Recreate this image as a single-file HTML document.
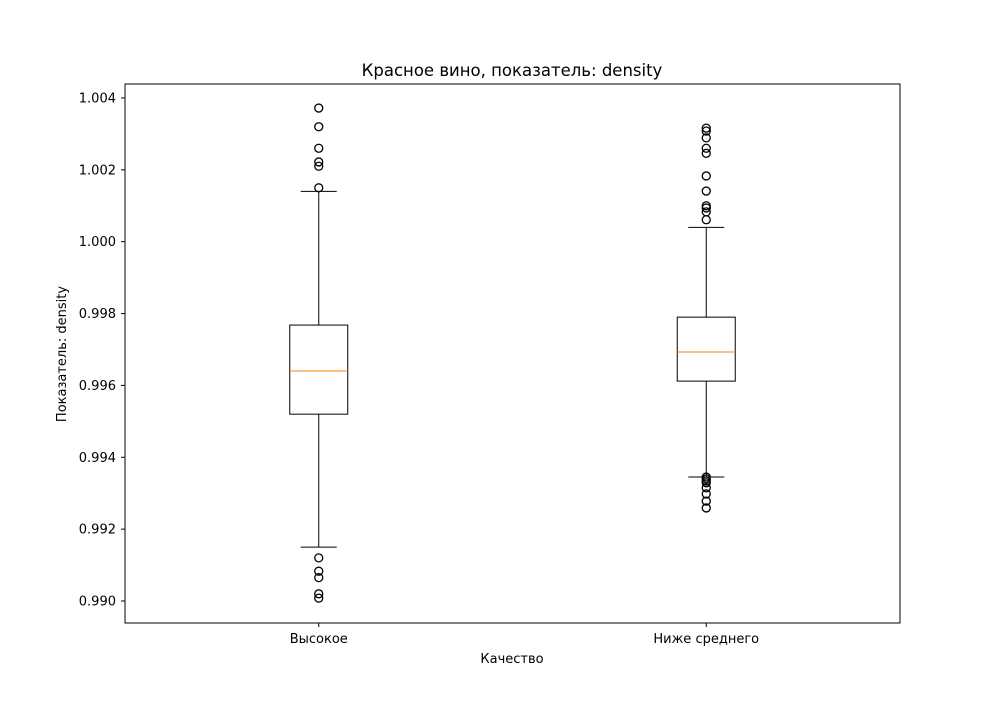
<!DOCTYPE html>
<html><head><meta charset="utf-8"><style>body{margin:0;background:#fff}svg{font-family:"DejaVu Sans","Liberation Sans",sans-serif}</style></head>
<body>
<svg id="chart" width="1000" height="700" xmlns="http://www.w3.org/2000/svg">
<rect width="1000" height="700" fill="#fff"/>
<g id="plot"></g>
</svg>
<script>
const categories = ["Высокое", "Ниже среднего"];
const q1 = [0.99520, 0.99612];
const medians = [0.99640, 0.99693];
const q3 = [0.99768, 0.99790];
const whiskerLow = [0.99150, 0.99345];
const whiskerHigh = [1.00140, 1.00040];
const outliers0 = [1.00372, 1.00320, 1.00260, 1.00222, 1.00210, 1.00150, 0.99120, 0.99083, 0.99065, 0.99020, 0.99008];
const outliers1 = [1.00316, 1.00308, 1.00289, 1.00260, 1.00246, 1.00183, 1.00141, 1.00100, 1.00094, 1.00083, 1.00061, 0.99345, 0.99340, 0.99334, 0.99329, 0.99315, 0.99298, 0.99278, 0.99259];
const yTicks = [0.990, 0.992, 0.994, 0.996, 0.998, 1.000, 1.002, 1.004];

const NS = "http://www.w3.org/2000/svg";
const L = 125, R = 900, T = 84, B = 623;
const y = v => 601 - (v - 0.990) / 0.002 * 71.86;
const x = i => L + (R - L) * (0.25 + 0.5 * i);
const g = document.getElementById('plot');
function mk(tag, attrs, text) {
  const e = document.createElementNS(NS, tag);
  for (const k in attrs) e.setAttribute(k, attrs[k]);
  if (text !== undefined) e.textContent = text;
  g.appendChild(e);
  return e;
}
let e;
e = mk('text', {x: 512, y: 76, 'font-size': 16.5, 'text-anchor': 'middle'}, 'Красное вино, показатель: density');


yTicks.forEach(t => {
  const yy = y(t);
  e = mk('line', {x1: L - 4, x2: L, y1: yy, y2: yy, stroke: '#000', 'stroke-width': 1});
  
  
  e = mk('text', {x: L - 9, y: yy + 4.5, 'font-size': 13, 'text-anchor': 'end'}, t.toFixed(3));
  
  
});
e = mk('text', {x: 0, y: 0, 'font-size': 13, 'text-anchor': 'middle', transform: 'translate(66,354) rotate(-90)'}, 'Показатель: density');


e = mk('text', {x: 512, y: 663, 'font-size': 13, 'text-anchor': 'middle'}, 'Качество');


const outs = [outliers0, outliers1];
categories.forEach((c, i) => {
  const cx = x(i), hw = 29, cw = 18;
  e = mk('line', {x1: cx, x2: cx, y1: B, y2: B + 4, stroke: '#000'});
  
  
  e = mk('text', {x: cx, y: B + 20, 'font-size': 13, 'text-anchor': 'middle'}, c);
  
  
  e = mk('line', {x1: cx, x2: cx, y1: y(q3[i]), y2: y(whiskerHigh[i]), stroke: '#000'});
  
  
  e = mk('line', {x1: cx, x2: cx, y1: y(q1[i]), y2: y(whiskerLow[i]), stroke: '#000'});
  
  
  e = mk('line', {x1: cx - cw, x2: cx + cw, y1: y(whiskerHigh[i]), y2: y(whiskerHigh[i]), stroke: '#000'});
  
  
  e = mk('line', {x1: cx - cw, x2: cx + cw, y1: y(whiskerLow[i]), y2: y(whiskerLow[i]), stroke: '#000'});
  
  
  e = mk('rect', {x: cx - hw, y: y(q3[i]), width: 2 * hw, height: y(q1[i]) - y(q3[i]), fill: 'none', stroke: '#000'});
  
  
  e = mk('line', {x1: cx - hw, x2: cx + hw, y1: y(medians[i]), y2: y(medians[i]), stroke: '#ff7f0e'});
  
  
  outs[i].forEach(v => {
    e = mk('circle', {cx: cx, cy: y(v), r: 4, fill: 'none', stroke: '#000', 'stroke-width': 1.3});
    
    
  });
});
e = mk('rect', {x: L, y: T, width: R - L, height: B - T, fill: 'none', stroke: '#000'});


</script>
</body></html>
